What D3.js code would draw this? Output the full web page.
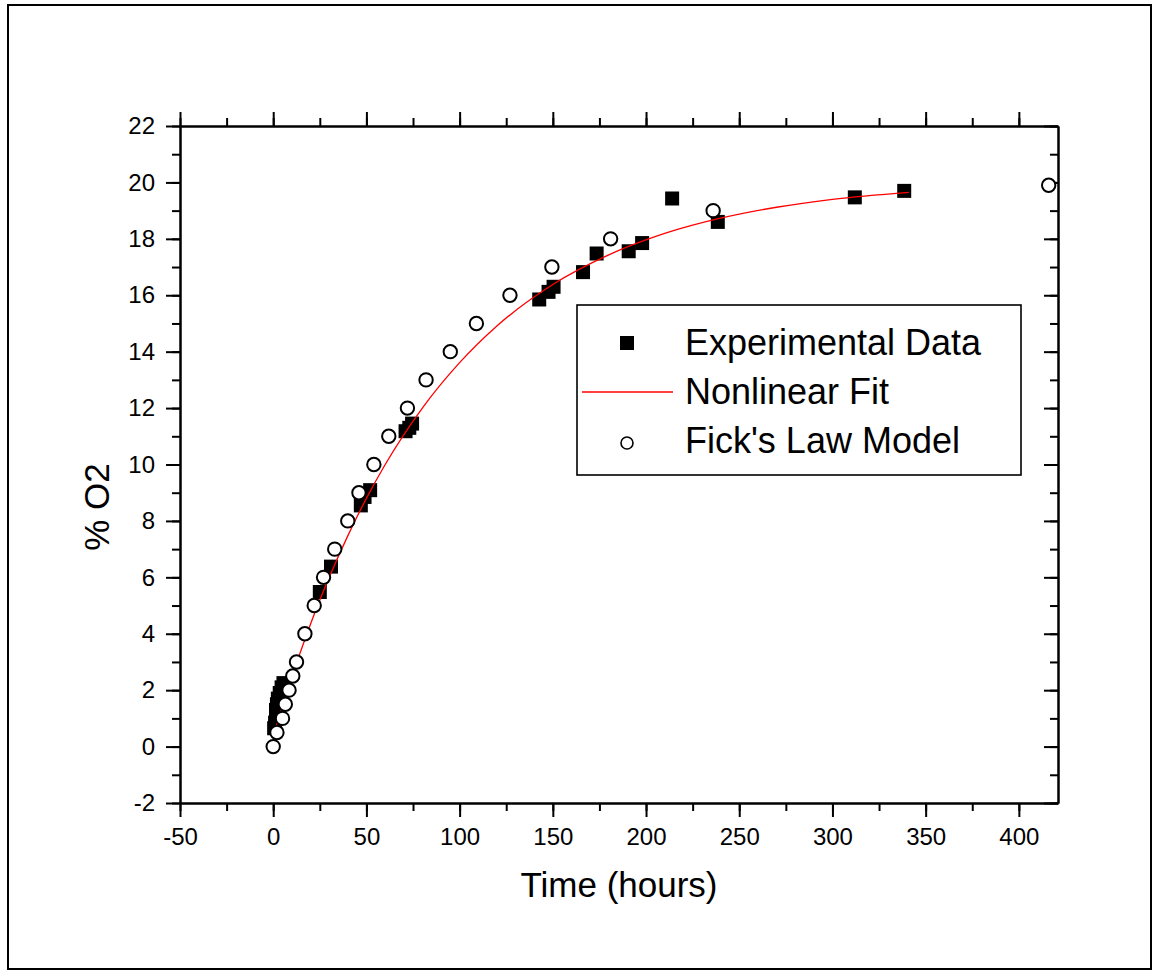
<!DOCTYPE html>
<html>
<head>
<meta charset="utf-8">
<script src="https://cdn.jsdelivr.net/npm/d3@7"></script>
<style>
  body { margin: 0; background: #fff; }
  text { font-family: "Liberation Sans", Arial, sans-serif; fill: #000; }
</style>
</head>
<body>
<div id="chart"></div>
<script>
/* O2 ingress over time: experimental data, nonlinear fit, Fick's law model */

// Experimental Data (time in hours, % O2)
const expTime = [0.5, 1, 1.5, 1.5, 2, 2.5, 3.5, 4.5, 5.5,
                 25, 31, 47, 49, 52, 71, 73, 74.5,
                 142.7, 147.7, 150.4, 166.2, 173.5, 190.7, 197.9,
                 214, 238.5, 312, 338.5];
const expO2 = [0.65, 0.85, 1.1, 1.3, 1.5, 1.7, 1.9, 2.1, 2.25,
               5.48, 6.38, 8.55, 8.85, 9.09, 11.18, 11.3, 11.45,
               15.85, 16.12, 16.3, 16.82, 17.48, 17.56, 17.85,
               19.43, 18.6, 19.47, 19.7];

// Nonlinear Fit
const fitTime = [0, 10, 20, 30, 40, 50, 60, 80, 100, 120, 150, 180, 210, 240, 270, 300, 341];
const fitO2 = [0.4, 2.47, 4.34, 5.99, 7.47, 8.8, 9.99, 12.0, 13.61, 14.91, 16.38, 17.43, 18.19, 18.73, 19.12, 19.4, 19.65];

// Fick's Law Model
const fickTime = [0, 2, 5, 6.5, 8.5, 10.5, 12.5, 17, 22, 27, 33, 40, 46, 54, 62, 72,
                  82, 95, 109, 127, 149.5, 181, 236, 416];
const fickO2 = [0, 0.5, 1, 1.5, 2, 2.5, 3, 4, 5, 6, 7, 8, 9, 10, 11, 12,
                13, 14, 15, 16, 17, 18, 19, 19.9];

const xTicks = [-50, 0, 50, 100, 150, 200, 250, 300, 350, 400];
const xMinor = d3.range(-50, 421, 25);
const yTicks = [-2, 0, 2, 4, 6, 8, 10, 12, 14, 16, 18, 20, 22];
const yMinor = d3.range(-2, 22.5, 1);

const legendLabels = ["Experimental Data", "Nonlinear Fit", "Fick's Law Model"];

const width = 1160,
      height = 974,
      margin = ({ top: 126, right: 102, bottom: 171, left: 180 });

let svg = d3.select("#chart")
    .append("svg")
    .attr("width", width)
    .attr("height", height)
    .attr("viewBox", [0, 0, width, height]);

// outer frame
svg.append("rect")
    .attr("x", 8).attr("y", 5)
    .attr("width", 1143).attr("height", 964)
    .attr("fill", "none")
    .attr("stroke", "#000")
    .attr("stroke-width", 2);

let x = d3.scaleLinear()
    .domain([-50, 421])
    .range([margin.left, width - margin.right]);

let y = d3.scaleLinear()
    .domain([-2, 22])
    .range([height - margin.bottom, margin.top]);

const fmt = d => String(d);

function styleAxis(g) {
    g.selectAll(".domain").attr("stroke-width", 2);
    g.selectAll(".tick line").attr("stroke-width", 2);
    g.selectAll("text").attr("font-size", 24).attr("font-family", "'Liberation Sans', Arial, sans-serif");
}

// bottom axis
svg.append("g")
    .attr("transform", `translate(0,${y(-2)})`)
    .call(d3.axisBottom(x).tickValues(xMinor).tickSize(8).tickFormat("").tickSizeOuter(0))
    .call(styleAxis);
svg.append("g")
    .attr("transform", `translate(0,${y(-2)})`)
    .call(d3.axisBottom(x).tickValues(xTicks).tickSize(14).tickPadding(11).tickFormat(fmt).tickSizeOuter(0))
    .call(styleAxis);

// left axis
svg.append("g")
    .attr("transform", `translate(${x(-50)},0)`)
    .call(d3.axisLeft(y).tickValues(yMinor).tickSize(8).tickFormat("").tickSizeOuter(0))
    .call(styleAxis);
svg.append("g")
    .attr("transform", `translate(${x(-50)},0)`)
    .call(d3.axisLeft(y).tickValues(yTicks).tickSize(14).tickPadding(11).tickFormat(fmt).tickSizeOuter(0))
    .call(styleAxis);

// top and right axes, ticks pointing inward
svg.append("g")
    .attr("transform", `translate(0,${y(22)})`)
    .call(d3.axisBottom(x).tickValues(xMinor).tickSize(8).tickFormat("").tickSizeOuter(0))
    .call(styleAxis);
svg.append("g")
    .attr("transform", `translate(0,${y(22)})`)
    .call(d3.axisBottom(x).tickValues(xTicks).tickSize(14).tickFormat("").tickSizeOuter(0))
    .call(styleAxis);
svg.append("g")
    .attr("transform", `translate(${x(421)},0)`)
    .call(d3.axisLeft(y).tickValues(yMinor).tickSize(-8).tickFormat("").tickSizeOuter(0))
    .call(styleAxis);
svg.append("g")
    .attr("transform", `translate(${x(421)},0)`)
    .call(d3.axisLeft(y).tickValues(yTicks).tickSize(-14).tickFormat("").tickSizeOuter(0))
    .call(styleAxis);
// flip the right axis ticks inward
svg.selectAll("g").filter(function () {
    return d3.select(this).attr("transform") === `translate(${x(421)},0)`;
}).selectAll(".tick line").attr("x2", function () { return -d3.select(this).attr("x2"); });
svg.selectAll("g").filter(function () {
    return d3.select(this).attr("transform") === `translate(0,${y(22)})`;
}).selectAll(".tick line").attr("y2", function () { return -d3.select(this).attr("y2"); });

// axis titles
svg.append("text")
    .attr("x", (x(-50) + x(421)) / 2)
    .attr("y", 897)
    .attr("text-anchor", "middle")
    .attr("font-size", 35)
    .text("Time (hours)");

svg.append("text")
    .attr("transform", "translate(109,507) rotate(-90)")
    .attr("text-anchor", "middle")
    .attr("font-size", 35)
    .text("% O2");

// points
const expData = expTime.map((t, i) => ({ t: t, v: expO2[i] }));
const fitData = fitTime.map((t, i) => ({ t: t, v: fitO2[i] }));
const fickData = fickTime.map((t, i) => ({ t: t, v: fickO2[i] }));

const sq = 14;
svg.append("g")
    .selectAll("rect")
    .data(expData)
    .join("rect")
    .attr("x", d => x(d.t) - sq / 2)
    .attr("y", d => y(d.v) - sq / 2)
    .attr("width", sq)
    .attr("height", sq)
    .attr("fill", "#000");

let line = d3.line()
    .x(d => x(d.t))
    .y(d => y(d.v))
    .curve(d3.curveMonotoneX);

svg.append("path")
    .datum(fitData)
    .attr("d", line)
    .attr("fill", "none")
    .attr("stroke", "#ff0000")
    .attr("stroke-width", 1.3);

svg.append("g")
    .selectAll("circle")
    .data(fickData)
    .join("circle")
    .attr("cx", d => x(d.t))
    .attr("cy", d => y(d.v))
    .attr("r", 6.7)
    .attr("fill", "#fff")
    .attr("stroke", "#000")
    .attr("stroke-width", 2);

// legend
let legend = svg.append("g");

legend.append("rect")
    .attr("x", 577).attr("y", 305)
    .attr("width", 444).attr("height", 170)
    .attr("fill", "#fff")
    .attr("stroke", "#000")
    .attr("stroke-width", 1.6);

legend.append("rect")
    .attr("x", 627 - 7).attr("y", 343 - 7)
    .attr("width", 14).attr("height", 14)
    .attr("fill", "#000");

legend.append("line")
    .attr("x1", 582).attr("x2", 673)
    .attr("y1", 392).attr("y2", 392)
    .attr("stroke", "#ff0000")
    .attr("stroke-width", 1.3);

legend.append("circle")
    .attr("cx", 627).attr("cy", 443)
    .attr("r", 6)
    .attr("fill", "#fff")
    .attr("stroke", "#000")
    .attr("stroke-width", 1.6);

legend.selectAll(".lab")
    .data(legendLabels)
    .join("text")
    .attr("class", "lab")
    .attr("x", 685)
    .attr("y", (d, i) => 355 + i * 49)
    .attr("font-size", 36)
    .text(d => d);
</script>
</body>
</html>
